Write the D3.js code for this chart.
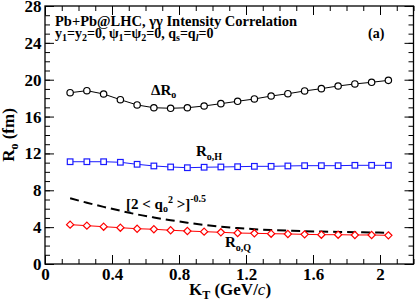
<!DOCTYPE html>
<html>
<head>
<meta charset="utf-8">
<script src="https://cdn.jsdelivr.net/npm/d3@7"></script>
<style>
body { margin: 0; background: #fff; }
svg { display: block; font-family: "Liberation Serif", "Times New Roman", serif; font-weight: bold; }
</style>
</head>
<body>
<svg width="415" height="305"></svg>
<script>
var kt = [0.15, 0.25, 0.35, 0.45, 0.55, 0.65, 0.75, 0.85, 0.95, 1.05,
          1.15, 1.25, 1.35, 1.45, 1.55, 1.65, 1.75, 1.85, 1.95, 2.05];
var deltaRo = [18.59, 18.81, 18.45, 17.83, 17.26, 16.96, 16.90, 16.96, 17.15, 17.40,
               17.66, 17.91, 18.23, 18.48, 18.78, 19.03, 19.32, 19.54, 19.72, 19.93];
var roH = [11.10, 11.10, 11.10, 11.04, 10.82, 10.64, 10.53, 10.45, 10.50, 10.53,
           10.56, 10.60, 10.60, 10.64, 10.67, 10.67, 10.67, 10.71, 10.71, 10.71];
var roQ = [4.27, 4.16, 4.05, 3.94, 3.83, 3.77, 3.66, 3.58, 3.51, 3.44,
           3.36, 3.33, 3.29, 3.26, 3.22, 3.18, 3.18, 3.15, 3.15, 3.11];
var q2inv = [7.13, 6.65, 6.20, 5.78, 5.38, 5.05, 4.75, 4.48, 4.25, 4.05,
             3.90, 3.78, 3.69, 3.62, 3.56, 3.52, 3.48, 3.45, 3.42, 3.40];
var xTicks = [0, 0.4, 0.8, 1.2, 1.6, 2];
var xTickLabels = ["0", "0.4", "0.8", "1.2", "1.6", "2"];
var yTicks = [0, 4, 8, 12, 16, 20, 24, 28];

var svg = d3.select("svg"),
    margin = {top: 6, right: 1.5, bottom: 41, left: 45},
    width = +svg.attr("width") - margin.left - margin.right,
    height = +svg.attr("height") - margin.top - margin.bottom;

var g = svg.append("g")
    .attr("transform", "translate(" + margin.left + "," + margin.top + ")");

var x = d3.scaleLinear().domain([0, 2.2]).range([0, width]);
var y = d3.scaleLinear().domain([0, 28]).range([height, 0]);

var xMinor = d3.range(0, 2.21, 0.1).map(function(d) { return +d.toFixed(1); });
var yMinor = d3.range(0, 28.1, 1);

function cleanAxis(sel) {
    sel.select(".domain").remove();
    sel.selectAll("line").attr("stroke", "#000").attr("stroke-width", 1);
    sel.selectAll("text").style("font-size", "17px").style("font-family", "Liberation Serif").style("font-weight", "bold").attr("fill", "#000");
}

// minor ticks, all four sides
g.append("g").attr("transform", "translate(0," + height + ")")
    .call(d3.axisBottom(x).tickValues(xMinor).tickSize(-5).tickFormat("")).call(cleanAxis);
g.append("g")
    .call(d3.axisTop(x).tickValues(xMinor).tickSize(-5).tickFormat("")).call(cleanAxis);
g.append("g")
    .call(d3.axisLeft(y).tickValues(yMinor).tickSize(-5).tickFormat("")).call(cleanAxis);
g.append("g").attr("transform", "translate(" + width + ",0)")
    .call(d3.axisRight(y).tickValues(yMinor).tickSize(-5).tickFormat("")).call(cleanAxis);

// major ticks
g.append("g").attr("transform", "translate(0," + height + ")")
    .call(d3.axisBottom(x).tickValues(xTicks).tickSize(-9).tickPadding(4)
        .tickFormat(function(d, i) { return xTickLabels[i]; }))
    .call(cleanAxis);
g.append("g")
    .call(d3.axisTop(x).tickValues(xTicks).tickSize(-9).tickFormat("")).call(cleanAxis);
g.append("g")
    .call(d3.axisLeft(y).tickValues(yTicks).tickSize(-9).tickPadding(3.5)).call(cleanAxis);
g.append("g").attr("transform", "translate(" + width + ",0)")
    .call(d3.axisRight(y).tickValues(yTicks).tickSize(-9).tickFormat("")).call(cleanAxis);

g.append("rect")
    .attr("width", width).attr("height", height)
    .attr("fill", "none").attr("stroke", "#000").attr("stroke-width", 1.3);

var line = d3.line()
    .x(function(d, i) { return x(kt[i]); })
    .y(function(d) { return y(d); });

// dashed [2<q^2>]^-0.5
g.append("path")
    .datum(q2inv)
    .attr("fill", "none").attr("stroke", "#000").attr("stroke-width", 2)
    .attr("stroke-dasharray", "9,5")
    .attr("d", line.curve(d3.curveMonotoneX));
line.curve(d3.curveLinear);

// delta R_o
g.append("path").datum(deltaRo)
    .attr("fill", "none").attr("stroke", "#000").attr("stroke-width", 1)
    .attr("d", line);
g.selectAll(".circ").data(deltaRo).enter().append("circle")
    .attr("class", "circ")
    .attr("cx", function(d, i) { return x(kt[i]); })
    .attr("cy", function(d) { return y(d); })
    .attr("r", 3.2)
    .attr("fill", "#fff").attr("stroke", "#000").attr("stroke-width", 1.2);

// R_o,H
g.append("path").datum(roH)
    .attr("fill", "none").attr("stroke", "#1a1aff").attr("stroke-width", 1)
    .attr("d", line);
g.selectAll(".sq").data(roH).enter().append("rect")
    .attr("class", "sq")
    .attr("x", function(d, i) { return x(kt[i]) - 2.8; })
    .attr("y", function(d) { return y(d) - 2.8; })
    .attr("width", 5.6).attr("height", 5.6)
    .attr("fill", "#fff").attr("stroke", "#1a1aff").attr("stroke-width", 1.2);

// R_o,Q
g.append("path").datum(roQ)
    .attr("fill", "none").attr("stroke", "#ff0000").attr("stroke-width", 1)
    .attr("d", line);
g.selectAll(".dia").data(roQ).enter().append("path")
    .attr("class", "dia")
    .attr("transform", function(d, i) { return "translate(" + x(kt[i]) + "," + y(d) + ")"; })
    .attr("d", "M0,-3.6L3.6,0L0,3.6L-3.6,0Z")
    .attr("fill", "#fff").attr("stroke", "#ff0000").attr("stroke-width", 1.2);

// labels
function label(px, py, size) {
    return svg.append("text").attr("x", px).attr("y", py).style("font-size", size + "px");
}

var t1 = label(55, 26, 14.5);
t1.text("Pb+Pb@LHC, \u03b3\u03b3  Intensity Correlation");

var t2 = label(55, 38, 14);
t2.append("tspan").text("y");
t2.append("tspan").attr("dy", 3).style("font-size", "10px").text("1");
t2.append("tspan").attr("dy", -3).text("=y");
t2.append("tspan").attr("dy", 3).style("font-size", "10px").text("2");
t2.append("tspan").attr("dy", -3).text("=0,  \u03c8");
t2.append("tspan").attr("dy", 3).style("font-size", "10px").text("1");
t2.append("tspan").attr("dy", -3).text("=\u03c8");
t2.append("tspan").attr("dy", 3).style("font-size", "10px").text("2");
t2.append("tspan").attr("dy", -3).text("=0, q");
t2.append("tspan").attr("dy", 3).style("font-size", "10px").text("s");
t2.append("tspan").attr("dy", -3).text("=q");
t2.append("tspan").attr("dy", 3).style("font-size", "10px").style("font-style", "italic").text("l");
t2.append("tspan").attr("dy", -3).text("=0");

label(368, 38, 14).text("(a)");

var t3 = label(151, 95, 15);
t3.append("tspan").text("\u0394R");
t3.append("tspan").attr("dy", 3).style("font-size", "10px").text("o");

var t4 = label(196, 156, 15);
t4.append("tspan").text("R");
t4.append("tspan").attr("dy", 4).style("font-size", "10px").text("o,H");

var t5 = label(126, 209, 15);
t5.append("tspan").text("[2 < q");
t5.append("tspan").attr("dy", 3).style("font-size", "10px").text("o");
t5.append("tspan").attr("dy", -9).style("font-size", "10px").text("2");
t5.append("tspan").attr("dy", 6).text(" >]");
t5.append("tspan").attr("dy", -7).style("font-size", "10px").text("-0.5");

var t6 = label(225, 247, 15);
t6.append("tspan").text("R");
t6.append("tspan").attr("dy", 4).style("font-size", "10px").text("o,Q");

// axis titles
var xt = svg.append("text")
    .attr("x", 230).attr("y", 295)
    .attr("text-anchor", "middle")
    .style("font-size", "17px");
xt.append("tspan").text("K");
xt.append("tspan").attr("dy", 4).style("font-size", "12px").text("T");
xt.append("tspan").attr("dy", -4).text(" (GeV/");
xt.append("tspan").style("font-style", "italic").style("font-weight", "normal").text("c");
xt.append("tspan").text(")");

var yt = svg.append("text")
    .attr("transform", "translate(14,135) rotate(-90)")
    .attr("text-anchor", "middle")
    .style("font-size", "17px");
yt.append("tspan").text("R");
yt.append("tspan").attr("dy", 4).style("font-size", "12px").text("o");
yt.append("tspan").attr("dy", -4).text(" (fm)");
</script>
</body>
</html>
